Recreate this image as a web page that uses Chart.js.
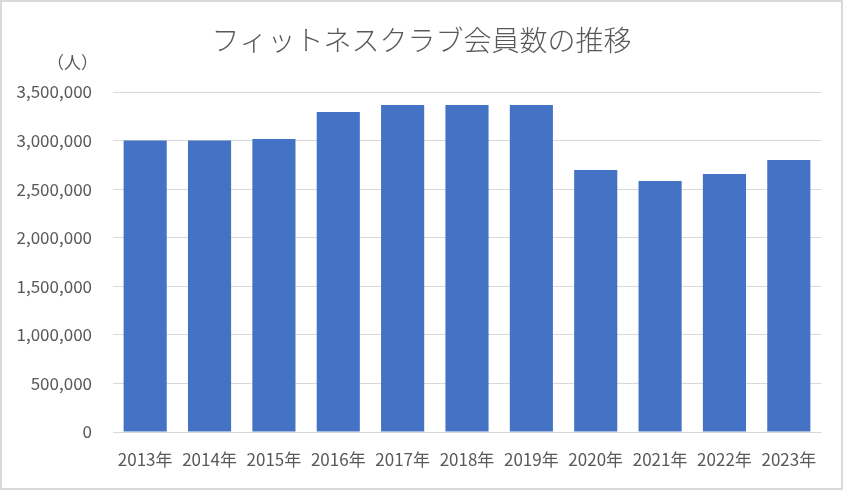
<!DOCTYPE html>
<html>
<head>
<meta charset="utf-8">
<script src="https://cdn.jsdelivr.net/npm/chart.js@4"></script>
<style>
  html, body { margin: 0; padding: 0; background: #fff; }
  #wrap { width: 843px; height: 490px; position: relative; }
  #moldura { position: absolute; left: 0; top: 0; width: 843px; height: 490px; box-sizing: border-box; border: 2px solid #d9d9d9; pointer-events: none; }
  canvas { display: block; }
</style>
</head>
<body>
<div id="wrap"><canvas id="grafico" width="843" height="490"></canvas><div id="moldura"></div></div>
<script>
const anos = ['2013年', '2014年', '2015年', '2016年', '2017年', '2018年', '2019年', '2020年', '2021年', '2022年', '2023年'];
const membros = [3000000, 3000000, 3015000, 3295000, 3365000, 3365000, 3365000, 2697000, 2584000, 2656000, 2800000];
const titulo = 'フィットネスクラブ会員数の推移';
const unidade = '（人）';

const fonte = '"Noto Sans CJK JP", "Noto Sans", sans-serif';
const cinza = '#595959';

const textoExtra = {
    id: 'textoExtra',
    afterDraw(chart) {
        const ctx = chart.ctx;
        ctx.save();
        ctx.fillStyle = cinza;
        ctx.textBaseline = 'middle';
        ctx.textAlign = 'center';
        ctx.font = '300 28px ' + fonte;
        ctx.fillText(titulo, chart.width / 2, 40);
        ctx.font = '17px ' + fonte;
        ctx.textAlign = 'right';
        ctx.fillText(unidade, 98, 63);
        ctx.restore();
    }
};

const graficoMembros = new Chart(document.getElementById('grafico'), {
    type: 'bar',
    data: {
        labels: anos,
        datasets: [{
            label: '会員数',
            data: membros,
            backgroundColor: '#4472C4',
            borderWidth: 0,
            categoryPercentage: 1,
            barPercentage: 0.67
        }]
    },
    options: {
        responsive: false,
        animation: false,
        devicePixelRatio: 1,
        layout: { padding: { top: 92, right: 22, left: 0, bottom: 0 } },
        plugins: {
            legend: { display: false },
            tooltip: { enabled: false }
        },
        scales: {
            x: {
                grid: { display: false },
                border: { color: '#d9d9d9', width: 1 },
                ticks: { color: cinza, font: { family: fonte, size: 17 }, padding: 9, maxRotation: 0, autoSkip: false },
                afterFit(scale) { scale.height = 58; }
            },
            y: {
                min: 0,
                max: 3500000,
                grid: { color: '#d9d9d9', lineWidth: 1, drawTicks: false },
                border: { display: false },
                ticks: {
                    stepSize: 500000,
                    color: cinza,
                    font: { family: fonte, size: 17 },
                    padding: 21,
                    callback: v => v.toLocaleString('en-US')
                },
                afterFit(scale) { scale.width = 113; }
            }
        }
    },
    plugins: [textoExtra]
});
</script>
</body>
</html>
